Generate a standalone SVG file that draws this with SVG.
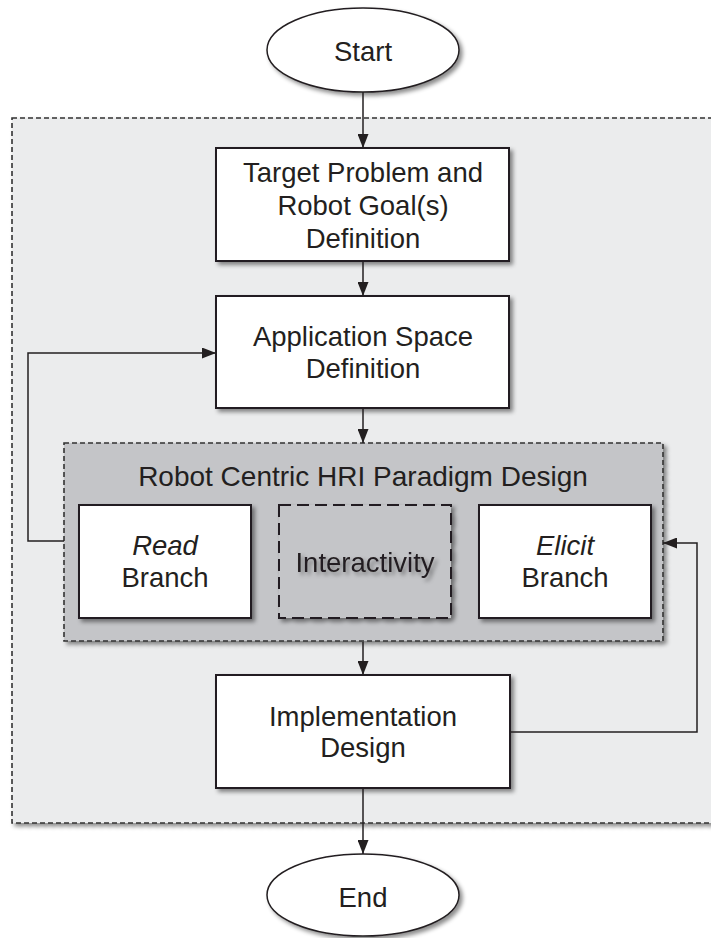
<svg xmlns="http://www.w3.org/2000/svg" width="711" height="938" viewBox="0 0 711 938">
  <defs>
    <filter id="shadow" x="-10%" y="-10%" width="125%" height="130%">
      <feDropShadow dx="3" dy="3" stdDeviation="2.2" flood-color="#000" flood-opacity="0.45"/>
    </filter>
    <filter id="textShadow" x="-10%" y="-30%" width="130%" height="180%">
      <feDropShadow dx="3" dy="3" stdDeviation="2" flood-color="#000" flood-opacity="0.4"/>
    </filter>
    <marker id="arrow" viewBox="0 0 14 11" refX="14" refY="5.5" markerWidth="14" markerHeight="11" markerUnits="userSpaceOnUse" orient="auto">
      <path d="M0,0 L14,5.5 L0,11 z" fill="#231f20"/>
    </marker>
  </defs>
  <style>
    text { font-family: "Liberation Sans", Arial, sans-serif; font-size: 27.5px; fill: #231f20; text-anchor: middle; }
    .box { fill: #ffffff; stroke: #231f20; stroke-width: 2; filter: url(#shadow); }
    .term { fill: #ffffff; stroke: #231f20; stroke-width: 1.5; filter: url(#shadow); }
    .outer { fill: #ebeced; stroke: #333; stroke-width: 1.6; stroke-dasharray: 5 3; filter: url(#shadow); }
    .stage { fill: #c4c5c8; stroke: #333; stroke-width: 1.6; stroke-dasharray: 5 3; filter: url(#shadow); }
    .dashed { fill: #c4c5c8; stroke: #231f20; stroke-width: 2; stroke-dasharray: 12 6; filter: url(#shadow); }
    .edge { fill: none; stroke: #231f20; stroke-width: 1.5; }
    .it { font-style: italic; }
  </style>

  <!-- process frame -->
  <g id="frame">
    <rect class="outer" x="12" y="118" width="720" height="705"/>
  </g>

  <g id="start">
    <ellipse class="term" cx="363" cy="50" rx="96" ry="42"/>
    <text x="363" y="61">Start</text>
  </g>

  <g id="target-problem">
    <rect class="box" x="216" y="148" width="293" height="113"/>
    <text x="363" y="182">Target Problem and</text>
    <text x="363" y="215">Robot Goal(s)</text>
    <text x="363" y="248">Definition</text>
  </g>

  <g id="application-space">
    <rect class="box" x="216" y="296" width="293" height="112"/>
    <text x="363" y="346">Application Space</text>
    <text x="363" y="378">Definition</text>
  </g>

  <g id="paradigm-design">
    <rect class="stage" x="64" y="443" width="599" height="198"/>
    <text x="363" y="486" style="font-size:28px">Robot Centric HRI Paradigm Design</text>
  </g>

  <g id="read-branch">
    <rect class="box" x="79" y="505" width="172" height="113"/>
    <text class="it" x="165" y="555">Read</text>
    <text x="165" y="587">Branch</text>
  </g>

  <g id="interactivity">
    <rect class="dashed" x="279" y="505" width="172" height="113"/>
    <text x="365" y="572" filter="url(#textShadow)">Interactivity</text>
  </g>

  <g id="elicit-branch">
    <rect class="box" x="479" y="505" width="172" height="113"/>
    <text class="it" x="565" y="555">Elicit</text>
    <text x="565" y="587">Branch</text>
  </g>

  <g id="implementation-design">
    <rect class="box" x="216" y="675" width="294" height="113"/>
    <text x="363" y="726">Implementation</text>
    <text x="363" y="757">Design</text>
  </g>

  <g id="end">
    <ellipse class="term" cx="363" cy="895" rx="96" ry="41"/>
    <text x="363" y="907">End</text>
  </g>

  <!-- connectors -->
  <g id="connectors">
    <path class="edge" d="M363,92 V148" marker-end="url(#arrow)"/>
    <path class="edge" d="M363,262 V296" marker-end="url(#arrow)"/>
    <path class="edge" d="M363,409 V443" marker-end="url(#arrow)"/>
    <path class="edge" d="M363,642 V675" marker-end="url(#arrow)"/>
    <path class="edge" d="M363,789 V854" marker-end="url(#arrow)"/>
    <path class="edge" d="M64,541 H28 V353 H216" marker-end="url(#arrow)"/>
    <path class="edge" d="M510,732 H697 V543 H663" marker-end="url(#arrow)"/>
  </g>
</svg>
